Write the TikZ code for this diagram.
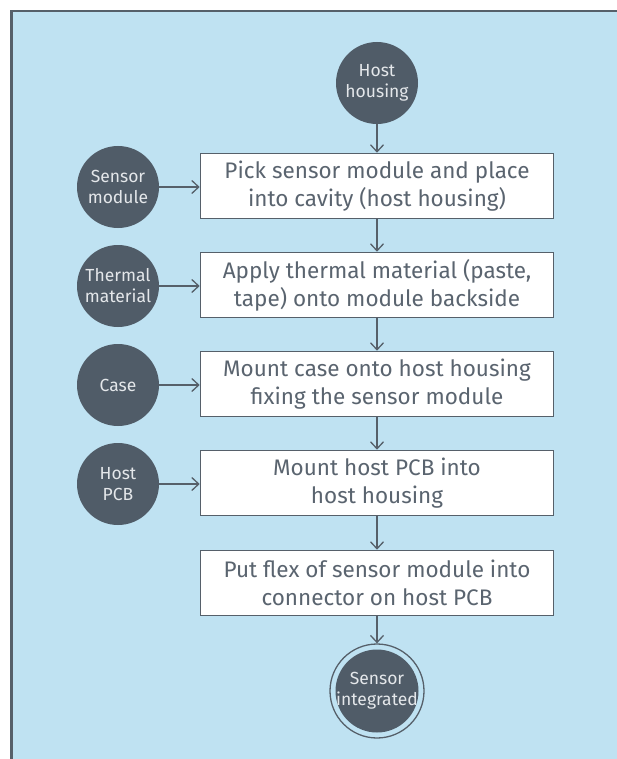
\documentclass[tikz,border=0pt]{standalone}
\usepackage{fontspec}
\setmainfont{Fira Sans}
\usetikzlibrary{arrows.meta}
\definecolor{bgblue}{HTML}{BFE2F2}
\definecolor{slate}{HTML}{505C68}
\definecolor{framegray}{HTML}{56606A}
\definecolor{txtgray}{HTML}{5A646F}
\definecolor{lighttxt}{HTML}{E4E7EA}

\begin{document}
\begin{tikzpicture}[x=1pt,y=-1pt,
  stepbox/.style={draw=framegray, line width=1.6pt, fill=white,
    minimum width=353pt, minimum height=65pt, inner sep=0pt,
    align=center, font=\fontsize{22.5}{28}\selectfont, text=txtgray},
  input/.style={circle, fill=slate, minimum size=82pt, inner sep=0pt,
    align=center, font=\fontsize{17.5}{21}\selectfont, text=lighttxt},
  label/.style={inner sep=0pt, align=center,
    font=\fontsize{17.5}{21}\selectfont, text=lighttxt},
  ring/.style={circle, draw=framegray, line width=1.3pt, minimum size=94pt, inner sep=0pt},
  flow/.style={draw=framegray, line width=1.3pt,
    -{Straight Barb[length=7pt,width=13pt,line width=1.3pt]}}]

% page, light panel and its frame
\useasboundingbox (0,0) rectangle (617,759);
\fill[white] (0,0) rectangle (617,759);
\fill[bgblue] (10,10) rectangle (617,759);
\draw[framegray, line width=2.5pt] (11.25,759) -- (11.25,11.25) -- (617,11.25);

% process steps
\node[stepbox] (s1) at (377,186) {Pick sensor module and place\\into cavity (host housing)};
\node[stepbox] (s2) at (377,285) {Apply thermal material (paste,\\tape) onto module backside};
\node[stepbox] (s3) at (377,384) {Mount case onto host housing\\fixing the sensor module};
\node[stepbox] (s4) at (377,483) {Mount host PCB into\\host housing};
\node[stepbox] (s5) at (377,583) {Put flex of sensor module into\\connector on host PCB};

% inputs
\node[input] (hh) at (377,83) {Host\\housing};
\node[input] (sm) at (118,187) {Sensor\\module};
\node[input] (tm) at (118,286) {Thermal\\material};
\node[input] (cs) at (118,385) {Case};
\node[input] (hp) at (118,484) {Host\\PCB};

% final state: double circle, text may touch the inner disc's edge
\node[ring] (endring) at (377,691) {};
\fill[slate] (endring.center) circle (41.5pt);
\node[label] (done) at (endring.center) {Sensor\\integrated};

% connectors
\draw[flow] (hh) -- (s1);
\draw[flow] (s1) -- (s2);
\draw[flow] (s2) -- (s3);
\draw[flow] (s3) -- (s4);
\draw[flow] (s4) -- (s5);
\draw[flow] (s5) -- (endring);
\draw[flow] (sm) -- (sm -| s1.west);
\draw[flow] (tm) -- (tm -| s2.west);
\draw[flow] (cs) -- (cs -| s3.west);
\draw[flow] (hp) -- (hp -| s4.west);
\end{tikzpicture}
\end{document}
